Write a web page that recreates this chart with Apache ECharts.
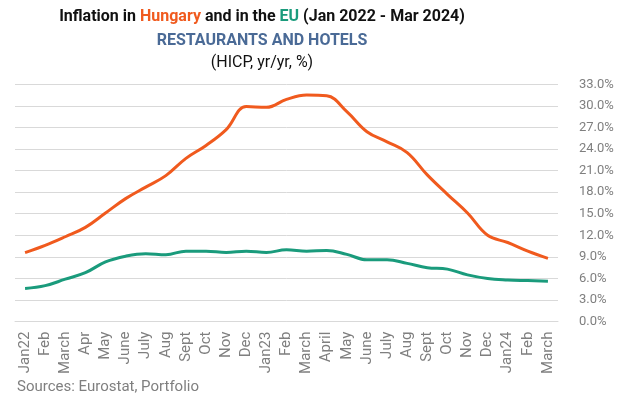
<!DOCTYPE html>
<html><head><meta charset="utf-8">
<script src="https://cdn.jsdelivr.net/npm/echarts@6/dist/echarts.min.js"></script>
<style>html,body{margin:0;padding:0;background:#fff}#c{width:625px;height:398px}</style>
</head><body><div id="c"></div>
<script>
const categories = ['Jan22','Feb','March','Apr','May','June','July','Aug','Sept','Oct','Nov','Dec',
  'Jan23','Feb','March','April','May','June','July','Aug','Sept','Oct','Nov','Dec','Jan24','Feb','March'];
const hungary = [9.6,10.6,11.8,13.1,15.1,17.1,18.7,20.3,22.7,24.5,26.7,29.9,
  29.8,30.9,31.5,31.4,29.2,26.4,25.0,23.5,20.4,17.7,15.1,12.0,11.0,9.8,8.8];
const eu = [4.6,5.0,5.9,6.8,8.3,9.1,9.45,9.3,9.8,9.8,9.6,9.8,
  9.6,10.0,9.8,9.9,9.35,8.6,8.6,8.1,7.5,7.3,6.5,6.0,5.8,5.7,5.6];
const yTicks = {min:0, max:33, interval:3};

const ORANGE = '#F05A1E', GREEN = '#1A9B7C', BLUE = '#4A6A96', GRAY = '#7F7F7F';
const chart = echarts.init(document.getElementById('c'), null, {renderer:'canvas'});
const F = 'Roboto';
chart.setOption({
  animation:false,
  backgroundColor:'#fff',
  graphic:[
    {type:'text', x:262, y:9, style:{
      text:'{b|Inflation in }{o|Hungary}{b| and in the }{g|EU}{b| (Jan 2022 - Mar 2024)}',
      align:'center', rich:{
        b:{fontFamily:F,fontWeight:'bold',fontSize:16,fill:'#111'},
        o:{fontFamily:F,fontWeight:'bold',fontSize:16,fill:ORANGE},
        g:{fontFamily:F,fontWeight:'bold',fontSize:16,fill:GREEN}}}},
    {type:'text', x:262, y:33, style:{text:'RESTAURANTS AND HOTELS', align:'center',
      fontFamily:F,fontWeight:'bold',fontSize:16,fill:BLUE}},
    {type:'text', x:262, y:55, style:{text:'(HICP, yr/yr, %)', align:'center',
      fontFamily:F,fontWeight:'normal',fontSize:16,fill:'#111'}},
    {type:'text', x:17, y:380, style:{text:'Sources: Eurostat, Portfolio',
      fontFamily:F,fontWeight:'normal',fontSize:15,fill:GRAY}}
  ],
  grid:{left:15, right:67, top:84.3, bottom:76.4, containLabel:false},
  xAxis:{type:'category', data:categories, boundaryGap:true,
    axisLine:{show:true, lineStyle:{color:'#d9d9d9'}}, axisTick:{show:false},
    axisLabel:{rotate:90, interval:0, margin:10, color:GRAY, fontFamily:F, fontSize:15}},
  yAxis:{type:'value', position:'right', min:yTicks.min, max:yTicks.max, interval:yTicks.interval,
    axisLine:{show:false}, axisTick:{show:false},
    splitLine:{lineStyle:{color:'#d9d9d9', width:1}},
    axisLabel:{margin:21, color:GRAY, fontFamily:F, fontSize:13,
      formatter:v=>v.toFixed(1)+'%'}},
  series:[
    {name:'Hungary', type:'line', data:hungary, smooth:0.4, symbol:'none',
      lineStyle:{color:ORANGE, width:3}, itemStyle:{color:ORANGE}},
    {name:'EU', type:'line', data:eu, smooth:0.4, symbol:'none',
      lineStyle:{color:GREEN, width:3}, itemStyle:{color:GREEN}}
  ]
});
</script></body></html>
